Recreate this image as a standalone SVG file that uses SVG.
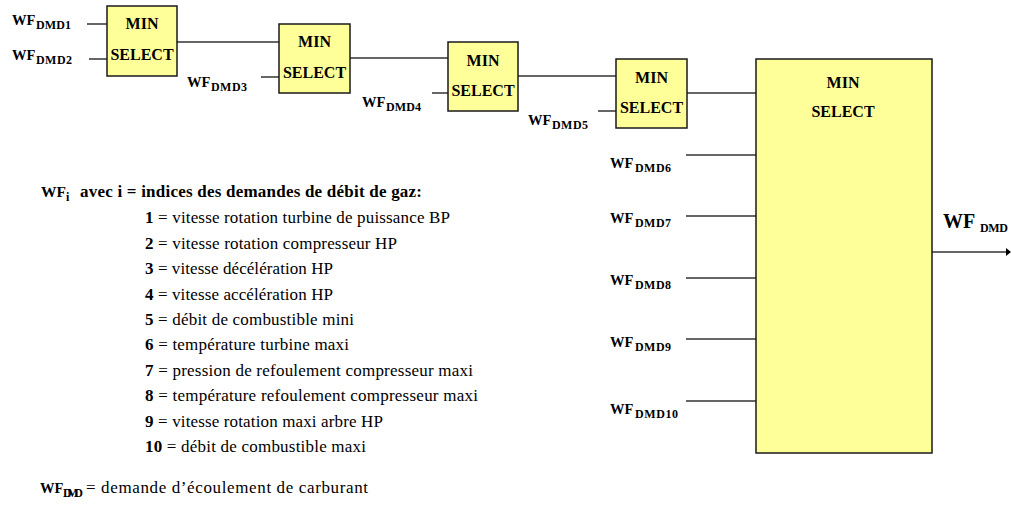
<svg xmlns="http://www.w3.org/2000/svg" width="1011" height="508" viewBox="0 0 1011 508" font-family="'Liberation Serif', 'Times New Roman', Tinos, 'DejaVu Serif', serif">
<style>
.box{fill:#FFFF99;stroke:#1a1a1a;stroke-width:1.5}
.bt{font-weight:bold;font-size:16px;fill:#000;text-anchor:middle}
.wf{font-weight:bold;font-size:14.5px;fill:#000}
.sub{font-weight:bold;font-size:12px;fill:#000}
.it{font-size:17px;fill:#000}
.b{font-weight:bold}
.ln{stroke:#333;stroke-width:1.5;fill:none}
</style>
<rect width="1011" height="508" fill="#fff"/>
<g id="connectors">
<line class="ln" x1="87" y1="24" x2="107" y2="24"/>
<line class="ln" x1="89" y1="59" x2="107" y2="59"/>
<line class="ln" x1="177" y1="42" x2="279" y2="42"/>
<line class="ln" x1="261" y1="77" x2="279" y2="77"/>
<line class="ln" x1="350" y1="58" x2="448" y2="58"/>
<line class="ln" x1="432" y1="93" x2="448" y2="93"/>
<line class="ln" x1="518" y1="76" x2="616" y2="76"/>
<line class="ln" x1="598" y1="111" x2="616" y2="111"/>
<line class="ln" x1="687" y1="93" x2="756" y2="93"/>
<line class="ln" x1="686" y1="155" x2="756" y2="155"/>
<line class="ln" x1="686" y1="216" x2="756" y2="216"/>
<line class="ln" x1="686" y1="278" x2="756" y2="278"/>
<line class="ln" x1="686" y1="339" x2="756" y2="339"/>
<line class="ln" x1="686" y1="401" x2="756" y2="401"/>
<line class="ln" x1="932" y1="252" x2="1007" y2="252"/>
<path d="M1006,248 L1011,252 L1006,256 Z" fill="#000"/>
</g>
<g id="min1"><rect class="box" x="107" y="6" width="70" height="70"/><text class="bt" x="142" y="29">MIN</text><text class="bt" x="142" y="60">SELECT</text></g>
<g id="min2"><rect class="box" x="279" y="24" width="71" height="69"/><text class="bt" x="314.5" y="47">MIN</text><text class="bt" x="314.5" y="78">SELECT</text></g>
<g id="min3"><rect class="box" x="448" y="42" width="70" height="69"/><text class="bt" x="483" y="66">MIN</text><text class="bt" x="483" y="96">SELECT</text></g>
<g id="min4"><rect class="box" x="616" y="59" width="71" height="69"/><text class="bt" x="651.5" y="83">MIN</text><text class="bt" x="651.5" y="113">SELECT</text></g>
<g id="min5"><rect class="box" x="756" y="59" width="176" height="394"/><text class="bt" x="843" y="88">MIN</text><text class="bt" x="843" y="117">SELECT</text></g>
<g id="labels">
<text class="wf" x="12" y="25">WF</text><text class="sub" x="36" y="29" textLength="35">DMD1</text>
<text class="wf" x="12" y="60">WF</text><text class="sub" x="36" y="64" textLength="36">DMD2</text>
<text class="wf" x="187" y="87">WF</text><text class="sub" x="211" y="91" textLength="36">DMD3</text>
<text class="wf" x="362" y="107">WF</text><text class="sub" x="386" y="111" textLength="35">DMD4</text>
<text class="wf" x="528" y="125">WF</text><text class="sub" x="552" y="129" textLength="36">DMD5</text>
<text class="wf" x="610" y="168">WF</text><text class="sub" x="635" y="172" textLength="36">DMD6</text>
<text class="wf" x="610" y="223">WF</text><text class="sub" x="635" y="227" textLength="36">DMD7</text>
<text class="wf" x="610" y="285">WF</text><text class="sub" x="635" y="289" textLength="36">DMD8</text>
<text class="wf" x="610" y="347">WF</text><text class="sub" x="635" y="351" textLength="36">DMD9</text>
<text class="wf" x="610" y="414">WF</text><text class="sub" x="635" y="418" textLength="43">DMD10</text>
<text class="wf" x="943" y="228" style="font-size:20px">WF</text><text class="sub" x="980" y="232" textLength="28">DMD</text>
</g>
<g id="legend">
<text class="wf" x="41" y="197" style="font-size:15.5px">WF</text><text class="sub" x="66" y="201">i</text>
<text class="wf" x="80" y="197" style="font-size:17px" textLength="342">avec i = indices des demandes de débit de gaz:</text>
<text class="it" x="145" y="223" textLength="305"><tspan class="b">1</tspan> = vitesse rotation turbine de puissance BP</text>
<text class="it" x="145" y="249" textLength="252"><tspan class="b">2</tspan> = vitesse rotation compresseur HP</text>
<text class="it" x="145" y="274" textLength="188"><tspan class="b">3</tspan> = vitesse décélération HP</text>
<text class="it" x="145" y="300" textLength="188"><tspan class="b">4</tspan> = vitesse accélération HP</text>
<text class="it" x="145" y="325" textLength="209"><tspan class="b">5</tspan> = débit de combustible mini</text>
<text class="it" x="145" y="350" textLength="204"><tspan class="b">6</tspan> = température turbine maxi</text>
<text class="it" x="145" y="376" textLength="328"><tspan class="b">7</tspan> = pression de refoulement compresseur maxi</text>
<text class="it" x="145" y="401" textLength="333"><tspan class="b">8</tspan> = température refoulement compresseur maxi</text>
<text class="it" x="145" y="427" textLength="238"><tspan class="b">9</tspan> = vitesse rotation maxi arbre HP</text>
<text class="it" x="145" y="452" textLength="221"><tspan class="b">10</tspan> = débit de combustible maxi</text>
<text class="wf" x="40" y="493">WF</text><text class="sub" x="63" y="497" textLength="20">DMD</text>
<text class="it" x="86" y="493" textLength="282">= demande d’écoulement de carburant</text>
</g>
</svg>
